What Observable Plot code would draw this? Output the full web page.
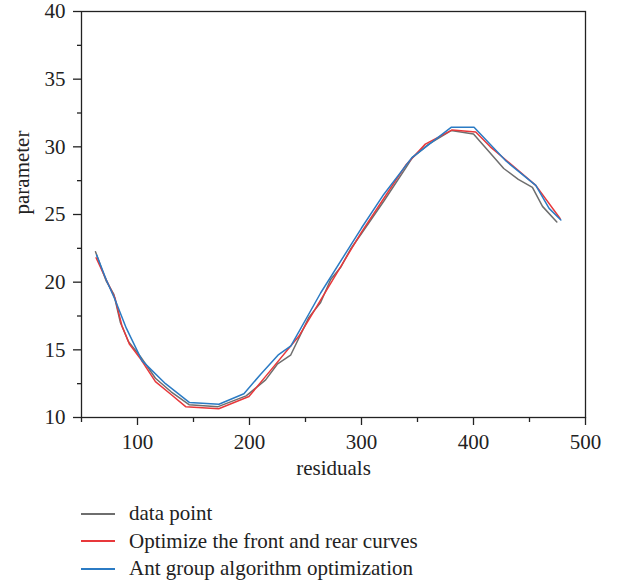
<!DOCTYPE html>
<html>
<head>
<meta charset="utf-8">
<script src="https://cdn.jsdelivr.net/npm/d3@7"></script>
<script src="https://cdn.jsdelivr.net/npm/@observablehq/plot@0.6"></script>
<style>
  body { margin: 0; background: #fff; font-family: "Liberation Serif", serif; }
  #legend { margin-top: 8px; padding-left: 81px; font-size: 21px; color: #222; }
  .row { display: flex; align-items: center; height: 27.5px; }
  .sw { display: inline-block; width: 34px; height: 2px; margin-right: 14px; }
</style>
</head>
<body>
<div id="chart"></div>
<div id="legend"></div>
<script>
const seriesNames = ["data point", "Optimize the front and rear curves", "Ant group algorithm optimization"];
const seriesColors = ["#6e6e6e", "#e8383b", "#2b7bc4"];

const dataX = [62.5, 68, 72, 78.9, 84.8, 92, 102.7, 116, 130, 146, 172, 197, 214.4, 224.8, 236.7, 253, 263.5, 272.5, 281.4, 290.3, 300, 320, 340, 345.4, 360, 380, 400, 410, 427, 440, 452.6, 461.6, 474.4];
const dataY = [22.25, 21.0, 20.1, 19.1, 17.0, 15.6, 14.5, 12.9, 11.9, 10.95, 10.8, 11.6, 12.78, 13.94, 14.6, 17.4, 18.5, 20.2, 21.1, 22.45, 23.6, 26.0, 28.5, 29.2, 30.2, 31.2, 30.95, 30.0, 28.4, 27.6, 27.0, 25.6, 24.45];

const frontX = [63, 72, 80, 86, 92.9, 103, 116, 130, 143, 172.5, 199.5, 219, 244, 260, 300, 320, 340, 357, 381, 402, 415, 430, 455.6, 477.3];
const frontY = [21.8, 20.2, 18.8, 16.8, 15.4, 14.3, 12.65, 11.7, 10.8, 10.65, 11.55, 13.5, 16.0, 18.2, 23.7, 26.2, 28.7, 30.2, 31.25, 31.1, 30.0, 28.95, 27.15, 24.7];

const antX = [63.5, 72, 80, 90, 104, 125, 146.5, 172.7, 195, 210, 226, 237, 263.5, 300, 320, 345, 380.3, 400.5, 429, 455.6, 467.5, 478];
const antY = [22.0, 20.2, 18.7, 16.6, 14.2, 12.5, 11.1, 10.98, 11.75, 13.2, 14.65, 15.3, 19.2, 24.0, 26.5, 29.2, 31.45, 31.45, 28.95, 27.15, 25.45, 24.6];

const xMajor = [100, 200, 300, 400, 500];
const xMinor = [50, 150, 250, 350, 450];
const yMajor = [10, 15, 20, 25, 30, 35, 40];
const yMinor = [12.5, 17.5, 22.5, 27.5, 32.5, 37.5];

const toRows = (xs, ys, s) => xs.map((x, i) => ({x, y: ys[i], s}));
const rows = [
  ...toRows(dataX, dataY, seriesNames[0]),
  ...toRows(frontX, frontY, seriesNames[1]),
  ...toRows(antX, antY, seriesNames[2])
];

const plot = Plot.plot({
  width: 621,
  height: 492,
  marginLeft: 81,
  marginRight: 36,
  marginTop: 11,
  marginBottom: 75,
  style: { fontFamily: "Liberation Serif, serif", fontSize: "21px", color: "#222", background: "#fff" },
  x: { domain: [50, 500] },
  y: { domain: [10, 40] },
  color: { domain: seriesNames, range: seriesColors },
  marks: [
    Plot.frame({ stroke: "#222", strokeWidth: 1.3 }),
    Plot.axisX({ ticks: xMajor, tickSize: 8, tickPadding: 9, tickFormat: d => String(d), label: null, strokeWidth: 1.3 }),
    Plot.axisX({ ticks: xMinor, tickSize: 5, text: null, label: null, strokeWidth: 1.3 }),
    Plot.axisY({ ticks: yMajor, tickSize: 8, tickPadding: 8, label: null, strokeWidth: 1.3 }),
    Plot.axisY({ ticks: yMinor, tickSize: 4, text: null, label: null, strokeWidth: 1.3 }),
    Plot.text(["residuals"], { frameAnchor: "bottom", dy: 57, fontSize: 21, fill: "#222" }),
    Plot.text(["parameter"], { frameAnchor: "left", dx: -59, rotate: -90, fontSize: 21, fill: "#222" }),
    Plot.line(rows, { x: "x", y: "y", z: "s", stroke: "s", strokeWidth: 1.5 })
  ]
});
document.getElementById("chart").appendChild(plot);

const legend = document.getElementById("legend");
seriesNames.forEach((n, i) => {
  const row = document.createElement("div");
  row.className = "row";
  const sw = document.createElement("span");
  sw.className = "sw";
  sw.style.background = seriesColors[i];
  const t = document.createElement("span");
  t.textContent = n;
  row.appendChild(sw);
  row.appendChild(t);
  legend.appendChild(row);
});
</script>
</body>
</html>
